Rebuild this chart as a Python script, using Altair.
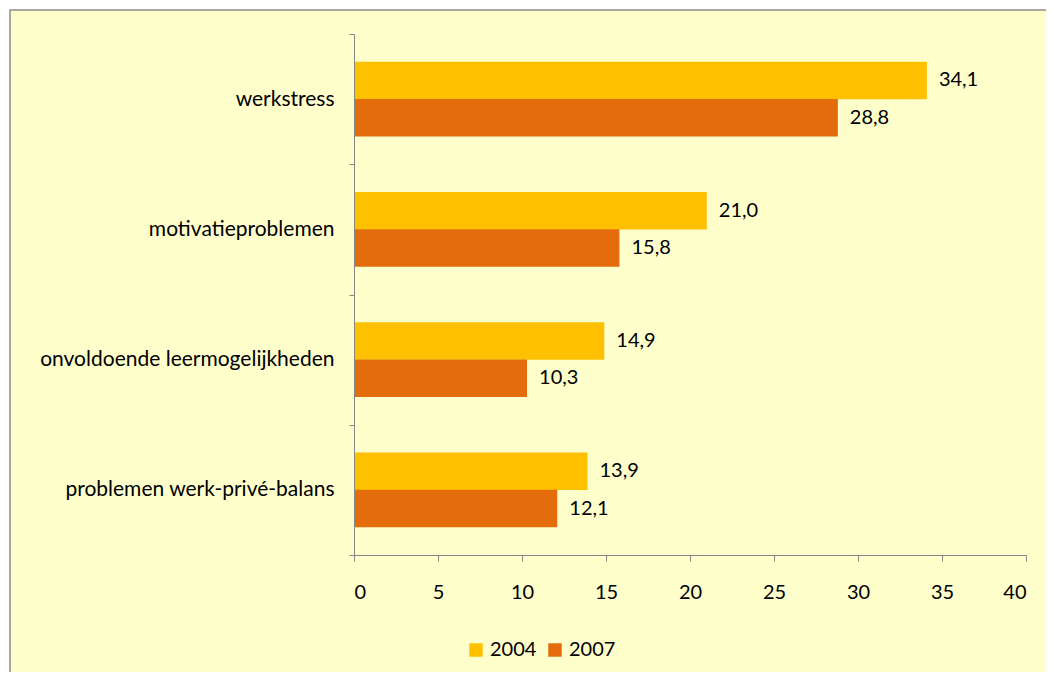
import altair as alt
import pandas as pd

categories = ["werkstress", "motivatieproblemen", "onvoldoende leermogelijkheden", "problemen werk-privé-balans"]
years = ["2004", "2007"]
values_2004 = [34.1, 21.0, 14.9, 13.9]
values_2007 = [28.8, 15.8, 10.3, 12.1]
x_ticks = [0, 5, 10, 15, 20, 25, 30, 35, 40]
colors = ["#FFC000", "#E46C0A"]

rows = []
for c, a, b in zip(categories, values_2004, values_2007):
    rows.append({"categorie": c, "jaar": "2004", "waarde": a})
    rows.append({"categorie": c, "jaar": "2007", "waarde": b})
df = pd.DataFrame(rows)

FONT = "Lato"
FS = 20
W, H = 672, 521
PAD_L, PAD_T, PAD_R, PAD_B = 346, 26, 20, 117

frame = alt.Chart(alt.Data(values=[{}])).mark_rect(
    fill="#FFFFCC", stroke="#8C8C8C", strokeWidth=1.5
).encode(
    x=alt.value(-(PAD_L - 2)), x2=alt.value(W + PAD_R + 10),
    y=alt.value(-(PAD_T - 2)), y2=alt.value(H + PAD_B + 10)
)

base = alt.Chart(df).encode(
    y=alt.Y("categorie:N", sort=categories,
            scale=alt.Scale(paddingInner=0, paddingOuter=0),
            axis=alt.Axis(title=None, tickBand="extent", tickSize=5, labelPadding=15,
                          labelFontSize=21, labelFont=FONT, labelColor="#000000",
                          domainColor="#868686", tickColor="#868686", labelLimit=400,
                          zindex=1)),
    yOffset=alt.YOffset("jaar:N", sort=years,
                        scale=alt.Scale(paddingInner=0, paddingOuter=0.746)),
)

bars = base.mark_bar(size=37.3).encode(
    x=alt.X("waarde:Q", scale=alt.Scale(domain=[0, 40]),
            axis=alt.Axis(title=None, values=x_ticks, grid=False, tickSize=6, labelPadding=21,
                          labelFontSize=FS, labelFont=FONT, labelColor="#000000",
                          domainColor="#868686", tickColor="#868686", zindex=1)),
    color=alt.Color("jaar:N", sort=years,
                    scale=alt.Scale(domain=years, range=colors),
                    legend=alt.Legend(title=None, orient="none", direction="horizontal",
                                      legendX=112, legendY=606, symbolType="square",
                                      symbolSize=182, symbolStrokeWidth=0, labelFontSize=FS,
                                      labelFont=FONT, labelColor="#000000", labelOffset=4,
                                      columnPadding=8, padding=0, zindex=1)),
)

labels = base.mark_text(align="left", baseline="middle", dx=12, fontSize=FS, font=FONT,
                        color="#000000").transform_calculate(
    label="replace(format(datum.waarde, '.1f'), '.', ',')"
).encode(
    x=alt.X("waarde:Q"),
    text="label:N",
)

chart = alt.layer(frame, bars, labels).properties(
    width=W, height=H,
    autosize=alt.AutoSizeParams(type="none"),
    padding={"left": PAD_L, "top": PAD_T, "right": PAD_R, "bottom": PAD_B},
    background="white",
).configure_view(stroke=None)

chart.save("out.html", embed_options={"renderer": "svg", "actions": False})
